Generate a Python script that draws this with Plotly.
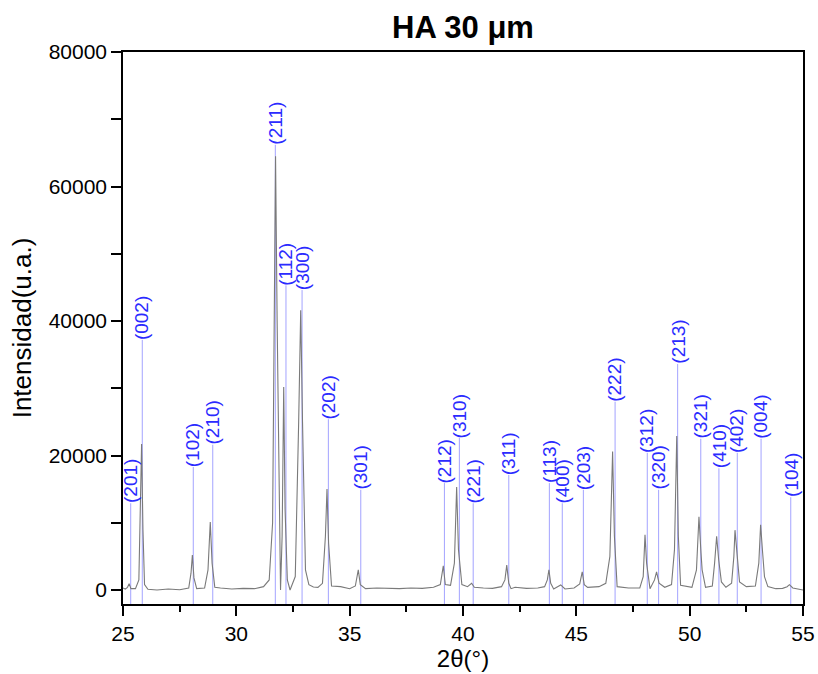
import plotly.graph_objects as go

# XRD pattern
two_theta = [25.0, 25.1, 25.2, 25.27, 25.35, 25.55, 25.7, 25.77, 25.82, 25.88, 25.95, 26.1, 26.5, 27.0, 27.5,
             27.9, 28.0, 28.06, 28.13, 28.25, 28.6, 28.75, 28.85, 28.93, 29.05, 29.3, 29.8, 30.3, 30.8,
             31.2, 31.45, 31.6, 31.68, 31.73, 31.8, 31.9, 31.95, 32.02, 32.09, 32.15, 32.25, 32.37,
             32.6, 32.75, 32.84, 32.92, 33.05, 33.2, 33.4, 33.6, 33.8, 33.93, 34.0, 34.07, 34.2, 34.6,
             35.0, 35.25, 35.38, 35.47, 35.7, 36.2, 36.7, 37.2, 37.7, 38.2, 38.7, 39.0, 39.13, 39.22,
             39.45, 39.62, 39.72, 39.8, 39.95, 40.2, 40.38, 40.5, 40.9, 41.3, 41.7, 41.85, 41.93, 42.02,
             42.12, 42.3, 42.8, 43.3, 43.6, 43.72, 43.79, 43.87, 44.0, 44.31, 44.5, 44.9, 45.15, 45.26,
             45.35, 45.5, 46.0, 46.3, 46.48, 46.6, 46.68, 46.8, 47.3, 47.8, 47.95, 48.03, 48.1, 48.25,
             48.45, 48.54, 48.65, 48.9, 49.2, 49.33, 49.43, 49.5, 49.6, 50.1, 50.3, 50.41, 50.5, 50.55,
             50.7, 51.0, 51.1, 51.19, 51.28, 51.4, 51.6, 51.85, 51.95, 52.0, 52.1, 52.2, 52.5, 52.9,
             53.05, 53.13, 53.22, 53.3, 53.45, 53.8, 54.1, 54.3, 54.4, 54.55, 55.0]
intensity = [300, 150, 400, 950, 200, 200, 1500, 11000, 21700, 9000, 800, 100, 0, 150, 50,
             300, 2500, 5200, 1800, 200, 300, 3000, 10100, 4000, 400, 300, 150, 250, 200,
             500, 1500, 10000, 45000, 64500, 40000, 12000, 0, 8000, 30200, 12000, 1500, 0,
             2000, 25000, 41600, 25000, 3000, 800, 450, 400, 1000, 8000, 15000, 7000, 600, 500,
             200, 600, 3000, 800, 200, 300, 250, 200, 300, 250, 400, 800, 3600, 800,
             700, 4000, 15300, 6000, 800, 500, 1000, 400, 300, 250, 500, 1500, 3700, 1000,
             200, 400, 250, 300, 500, 1500, 3000, 1000, 150, 750, 150, 300, 900, 2700,
             800, 400, 500, 1000, 5000, 20600, 8000, 500, 300, 300, 2000, 8200, 4000, 200,
             1500, 2700, 1000, 400, 800, 6000, 22900, 8000, 700, 400, 3000, 10900, 5500, 3000,
             400, 600, 4000, 8000, 4500, 1200, 400, 1000, 5000, 8900, 5000, 1200, 500, 600,
             4000, 9700, 5500, 2000, 500, 200, 250, 500, 800, 300, 0]

# Reflection markers
hkl = ["(201)", "(002)", "(102)", "(210)", "(211)", "(112)", "(300)", "(202)", "(301)", "(212)",
       "(310)", "(221)", "(311)", "(113)", "(400)", "(203)", "(222)", "(312)", "(320)", "(213)",
       "(321)", "(410)", "(402)", "(004)", "(104)"]
hkl_pos = [25.34, 25.85, 28.10, 28.96, 31.72, 32.19, 32.90, 34.06, 35.49, 39.18,
           39.84, 40.45, 42.02, 43.81, 44.38, 45.31, 46.71, 48.13, 48.63, 49.47,
           50.49, 51.29, 52.10, 53.15, 54.46]
hkl_top = [12900, 37200, 18300, 21600, 66200, 45300, 44600, 25400, 14900, 15900,
           22600, 12900, 17100, 15900, 12900, 14900, 28000, 20400, 14900, 33600,
           22500, 18100, 20400, 22500, 13800]

y_min, y_max = -2080, 80000
x_ticks = [25, 30, 35, 40, 45, 50, 55]
y_ticks = [0, 20000, 40000, 60000, 80000]
y_tick_text = ["0", "20000", "40000", "60000", "80000"]

FONT = "Liberation Sans, Arial, sans-serif"
W, H = 818, 674

line_x, line_y = [], []
for p, t in zip(hkl_pos, hkl_top):
    line_x += [p, p, None]
    line_y += [y_min, t, None]

fig = go.Figure()
fig.add_trace(go.Scatter(x=line_x, y=line_y, mode="lines",
                         line=dict(color="#a3a3ff", width=1), hoverinfo="skip", showlegend=False))
fig.add_trace(go.Scatter(x=two_theta, y=intensity, mode="lines",
                         line=dict(color="#7a7a7a", width=1.1), showlegend=False))

for lab, p, t in zip(hkl, hkl_pos, hkl_top):
    fig.add_annotation(x=p, y=t, text=lab, textangle=-90, showarrow=False,
                       xanchor="center", yanchor="bottom", yshift=-2,
                       font=dict(family=FONT, size=19, color="#2b2bff"))

fig.update_layout(
    width=W, height=H,
    margin=dict(l=123, r=15, t=52, b=70),
    paper_bgcolor="white", plot_bgcolor="white",
    font=dict(family=FONT, color="black"),
    title=dict(text="<b>HA 30 μm</b>", x=463/W, xanchor="center", y=1-27/H, yanchor="middle",
               font=dict(family=FONT, size=31, color="black")),
    showlegend=False,
)
fig.update_xaxes(range=[25, 55], tickmode="array", tickvals=x_ticks,
                 ticks="outside", ticklen=10, tickwidth=1.5, tickcolor="black",
                 minor=dict(tickmode="array", tickvals=[27.5, 32.5, 37.5, 42.5, 47.5, 52.5],
                            ticks="outside", ticklen=6, tickwidth=1.5, tickcolor="black"),
                 showline=True, linecolor="black", linewidth=1.5, mirror=True,
                 showgrid=False, zeroline=False, automargin=False,
                 tickfont=dict(family=FONT, size=21),
                 title=dict(text="2θ(°)", font=dict(family=FONT, size=24), standoff=4))
fig.update_yaxes(range=[y_min, y_max], tickmode="array", tickvals=y_ticks, ticktext=y_tick_text,
                 ticks="outside", ticklen=10, tickwidth=1.5, tickcolor="black",
                 minor=dict(tickmode="array", tickvals=[10000, 30000, 50000, 70000],
                            ticks="outside", ticklen=10, tickwidth=1.5, tickcolor="black"),
                 showline=True, linecolor="black", linewidth=1.5, mirror=True,
                 showgrid=False, zeroline=False, automargin=False,
                 tickfont=dict(family=FONT, size=21),
                 title=dict(text="Intensidad(u.a.)", font=dict(family=FONT, size=26), standoff=10))

fig.write_html("out.html", config={"displayModeBar": False},
               post_script="document.body.style.margin='0';document.body.style.overflow='hidden';")
